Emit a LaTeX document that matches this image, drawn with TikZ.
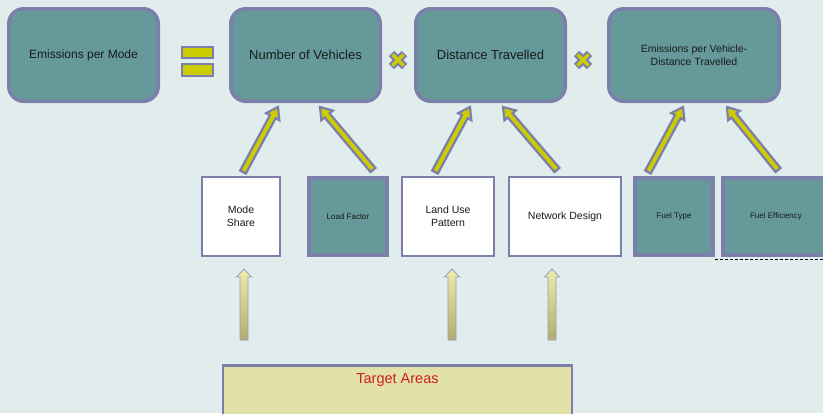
\documentclass[tikz,border=0pt]{standalone}
\usepackage{fontspec}
\setmainfont{Liberation Sans}
\usetikzlibrary{calc}

\definecolor{bgcol}{HTML}{E1ECEC}
\definecolor{tealfill}{HTML}{669999}
\definecolor{rimcol}{HTML}{7C7FAB}
\definecolor{signyellow}{HTML}{CCCC00}
\definecolor{targetfill}{HTML}{E3E1AA}
\definecolor{targetred}{HTML}{CC1F1F}
\definecolor{liftrim}{HTML}{9A9CBB}
\definecolor{lifttop}{HTML}{EEECA8}
\definecolor{liftbottom}{HTML}{AFAE72}
\definecolor{inkcol}{HTML}{1A1A1A}

\tikzset{
  factorbox/.style={draw=rimcol, line width=3.5pt, fill=tealfill, rounded corners=15pt,
    minimum height=92.5, text=inkcol, align=center, inner sep=0pt},
  plainbox/.style={draw=rimcol, line width=2pt, fill=white, minimum height=79,
    text=inkcol, align=center, font=\fontsize{10.5}{13}\selectfont, inner sep=0pt},
  tealbox/.style={draw=rimcol, line width=4pt, fill=tealfill, minimum height=77,
    text=inkcol, align=center, font=\fontsize{8}{10}\selectfont, inner sep=0pt},
  targetbox/.style={draw=rimcol, line width=2.5pt, fill=targetfill, inner sep=0pt},
  fatarrow/.style={draw=rimcol, line width=2.2pt, fill=signyellow, line join=miter},
  liftarrow/.style={draw=liftrim, line width=0.8pt, top color=lifttop, bottom color=liftbottom},
  signbar/.style={draw=rimcol, line width=2pt, fill=signyellow},
}

% broad outlined arrow from #1 to #2
\newcommand\fatarrowpath[2]{%
  \path[fatarrow] let \p1=(#1), \p2=(#2),
    \n1={atan2(\y2-\y1,\x2-\x1)}, \n2={veclen(\x2-\x1,\y2-\y1)} in
    [shift={(\p1)}, rotate=\n1]
    (0,-3.2) -- ({\n2-11},-3.2) -- ({\n2-11},-7.5) -- (\n2,0)
    -- ({\n2-11},7.5) -- ({\n2-11},3.2) -- (0,3.2) -- cycle;}

% upright shaded arrow from tail #1 to tip #2
\newcommand\liftarrowpath[2]{%
  \path[liftarrow] let \p1=(#1), \p2=(#2) in
    (\x1-4pt,\y1) -- (\x1-4pt,\y2-8pt) -- (\x1-7.5pt,\y2-8pt) -- (\x1,\y2)
    -- (\x1+7.5pt,\y2-8pt) -- (\x1+4pt,\y2-8pt) -- (\x1+4pt,\y1) -- cycle;}

% multiplication sign centred at #1
\newcommand\timessign[1]{%
  \begin{scope}[shift={#1}]
    \draw[rimcol, line width=7.5pt] (-6.5,-6.5) -- (6.5,6.5) (-6.5,6.5) -- (6.5,-6.5);
    \draw[signyellow, line width=3.5pt] (-5.5,-5.5) -- (5.5,5.5) (-5.5,5.5) -- (5.5,-5.5);
  \end{scope}}

\begin{document}
\begin{tikzpicture}[x=1pt, y=-1pt]
  \clip (0,0) rectangle (823,413);
  \fill[bgcol] (0,0) rectangle (823,413);

  % top row: the factors of the product
  \node[factorbox, minimum width=149.5, font=\fontsize{12}{14}\selectfont] (epm) at (83.5,55) {Emissions per Mode};
  \node[factorbox, minimum width=149.5, font=\fontsize{13}{15}\selectfont] (nv) at (305.5,55) {Number of Vehicles};
  \node[factorbox, minimum width=149.5, font=\fontsize{13}{15}\selectfont] (dt) at (490.5,55) {Distance Travelled};
  \node[factorbox, minimum width=170.5, font=\fontsize{10.5}{13}\selectfont] (ev) at (694,55) {Emissions per Vehicle-\\Distance Travelled};

  % equals and times signs
  \draw[signbar] (182,47) rectangle (213,58);
  \draw[signbar] (182,64) rectangle (213,76);
  \timessign{(398,60)}
  \timessign{(583,60)}

  % second row: influencing factors
  \node[plainbox, minimum width=78] (ms) at (241,216.5) {Mode\\Share};
  \node[tealbox, minimum width=78] (lf) at (348,216.5) {Load Factor};
  \node[plainbox, minimum width=92] (lu) at (448,216.5) {Land Use\\Pattern};
  \node[plainbox, minimum width=112] (nd) at (565,216.5) {Network Design};
  \node[tealbox, minimum width=78] (ft) at (674,216.5) {Fuel Type};
  \node[tealbox, minimum width=106] (fe) at (776,216.5) {Fuel Efficiency};
  \draw[black, line width=0.6pt, dash pattern=on 3pt off 2pt] ([xshift=-6pt]fe.south west) ++(0,2) -- ++(120,0);

  % arrows into the top row
  \fatarrowpath{$(ms.north)+(2,-4)$}{$(nv.south)+(-27.5,4)$}
  \fatarrowpath{$(lf.north)+(25,-6)$}{$(nv.south)+(14.5,4)$}
  \fatarrowpath{$(lu.north)+(-13,-4)$}{$(dt.south)+(-20.5,4)$}
  \fatarrowpath{$(nd.north)+(-8,-6)$}{$(dt.south)+(12.5,4)$}
  \fatarrowpath{$(ft.north)+(-26,-4)$}{$(ev.south)+(-11,4)$}
  \fatarrowpath{$(fe.north)+(2,-6)$}{$(ev.south)+(33,4)$}

  % target areas and its arrows
  \node[targetbox, minimum width=349, minimum height=80, anchor=north] (ta) at (397.5,364) {};
  \node[text=targetred, font=\fontsize{14.5}{16}\selectfont] (tatext) at ($(ta.north)+(0,16)$) {Target Areas};
  \liftarrowpath{$(ms.south)+(3,83)$}{$(ms.south)+(3,12)$}
  \liftarrowpath{$(lu.south)+(4,83)$}{$(lu.south)+(4,12)$}
  \liftarrowpath{$(nd.south)+(-13,83)$}{$(nd.south)+(-13,12)$}
\end{tikzpicture}
\end{document}
